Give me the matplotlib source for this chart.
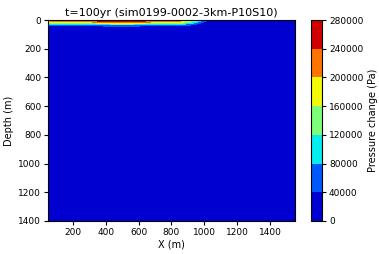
import numpy as np
import matplotlib
matplotlib.use("Agg")
import matplotlib.pyplot as plt

# Grid coordinates (m)
x_nodes = [50, 150, 250, 340, 355, 450, 550, 635, 650, 750, 850, 900, 950, 1000, 1050, 1550]
depth_nodes = [0, 8, 14, 20, 26, 34, 42, 50, 1400]

# Pressure change (kPa) per depth row
p_d0 = [215, 222, 232, 238, 266, 278, 278, 266, 238, 230, 218, 185, 130, 60, 0, 0]
p_d8 = [195, 205, 215, 225, 250, 256, 256, 250, 225, 215, 200, 165, 110, 45, 0, 0]
p_d14 = [165, 175, 190, 200, 215, 225, 225, 215, 200, 190, 175, 140, 90, 30, 0, 0]
p_d20 = [130, 140, 150, 160, 170, 180, 180, 170, 160, 150, 140, 110, 65, 18, 0, 0]
p_d26 = [100, 105, 112, 120, 125, 130, 130, 125, 120, 112, 105, 80, 45, 10, 0, 0]
p_d34 = [65, 68, 72, 75, 78, 80, 80, 78, 75, 72, 68, 50, 25, 4, 0, 0]
p_d42 = [30, 32, 34, 35, 36, 38, 38, 36, 35, 34, 32, 22, 10, 0, 0, 0]
p_d50 = [0] * 16
p_d1400 = [0] * 16

levels = [0, 40000, 80000, 120000, 160000, 200000, 240000, 280000]

Z = np.array([p_d0, p_d8, p_d14, p_d20, p_d26, p_d34, p_d42, p_d50, p_d1400],
             dtype=float) * 1000.0
X, Y = np.meshgrid(x_nodes, depth_nodes)

fig = plt.figure(figsize=(3.79, 2.54), dpi=100)
ax = fig.add_axes([0.127, 0.130, 0.651, 0.791])
cax = fig.add_axes([0.8206, 0.130, 0.029, 0.791])

cs = ax.contourf(X, Y, Z, levels=levels, cmap="jet")
ax.set_xlim(50, 1550)
ax.set_ylim(1400, 0)
ax.set_xticks([200, 400, 600, 800, 1000, 1200, 1400])
ax.set_yticks([0, 200, 400, 600, 800, 1000, 1200, 1400])
ax.tick_params(labelsize=6.5, length=3, pad=2)
ax.set_xlabel("X (m)", fontsize=7, labelpad=2)
ax.set_ylabel("Depth (m)", fontsize=7, labelpad=3)
ax.set_title("t=100yr (sim0199-0002-3km-P10S10)", fontsize=8, pad=3)

cb = fig.colorbar(cs, cax=cax, ticks=levels)
cb.ax.tick_params(labelsize=6.5, length=3, pad=2)
cb.set_label("Pressure change (Pa)", fontsize=7, labelpad=3)

fig.savefig("out.png", dpi=100)
